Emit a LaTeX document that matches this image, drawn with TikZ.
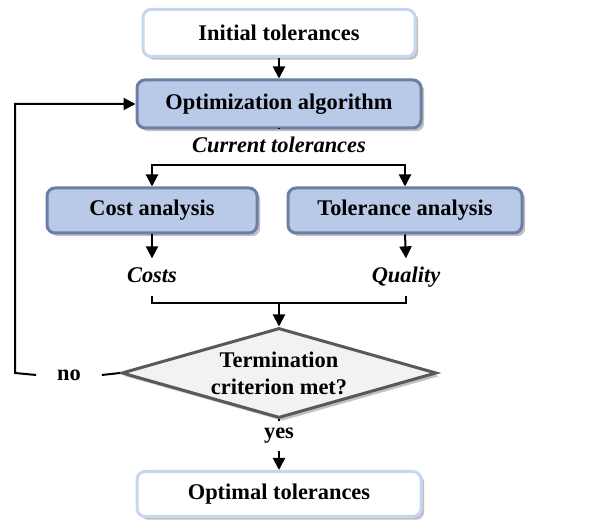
\documentclass[tikz,border=0pt]{standalone}
\usepackage{fontspec}
\setmainfont{Liberation Serif}
\usetikzlibrary{shapes.geometric, arrows.meta, positioning, calc, shadows}
\definecolor{stepblue}{RGB}{185,201,232}
\definecolor{stepedge}{RGB}{108,126,166}
\definecolor{endedge}{RGB}{198,214,240}
\definecolor{checkgray}{RGB}{242,242,242}
\definecolor{checkedge}{RGB}{89,89,89}
\tikzset{
    boxshadow/.style={drop shadow={shadow xshift=1.6pt, shadow yshift=-1.6pt, opacity=0.35, fill=black!70}},
    endpoint/.style={rectangle, rounded corners=4pt, draw=endedge, fill=white, line width=1.5pt, boxshadow, inner sep=0pt},
    process/.style={rectangle, rounded corners=4pt, draw=stepedge, fill=stepblue, line width=1.5pt, boxshadow, inner sep=0pt},
    check/.style={diamond, draw=checkedge, fill=checkgray, line width=1.5pt, boxshadow, align=center, inner sep=0pt, aspect=3.5},
    flowlabel/.style={inner sep=4pt, text height=1.6ex, text depth=0.5ex},
    arrow/.style={-{Triangle[length=6pt, width=6pt]}, line width=1pt},
}
\begin{document}
\begin{tikzpicture}[x=0.5pt, y=-0.5pt, line width=1pt, every node/.append style={font=\fontsize{11.2}{13.5}\selectfont\bfseries}]
    \useasboundingbox (0,0) rectangle (590,523);
    % main column
    \node[endpoint, minimum width=136pt, minimum height=23.5pt] (init) at (279,33) {Initial tolerances};
    \node[process, minimum width=142pt, minimum height=24pt] (opt) at (279,104) {Optimization algorithm};
    \node[flowlabel] (cur) at (279,147) {\itshape Current tolerances};
    \coordinate (split) at (279,165);
    % the two analyses
    \node[process, minimum width=105pt, minimum height=22.5pt] (cost) at (152,210.5) {Cost analysis};
    \node[process, minimum width=117pt, minimum height=22.5pt] (tol) at (405,210.5) {Tolerance analysis};
    \node[flowlabel] (costs) at (152,277) {\itshape Costs};
    \node[flowlabel] (quality) at (406,277) {\itshape Quality};
    \coordinate (join) at (279,303);
    % decision
    \node[check, minimum width=157.5pt, minimum height=45pt] (term) at (279,373) {Termination\\criterion met?};
    \node[inner xsep=10pt] (no) at (69,375) {no};
    \coordinate (back) at (15,373);
    \node[inner sep=3pt] (yes) at (279,436) {yes};
    \node[endpoint, minimum width=142pt, minimum height=22.5pt] (final) at (279,494) {Optimal tolerances};
    % connectors
    \draw[arrow] (init) -- (opt);
    \draw (opt.south) -- (cur.north);
    \draw (cur.south) -- (split);
    \draw[arrow] (split) -| (cost.north);
    \draw[arrow] (split) -| (tol.north);
    \draw[arrow] (cost.south) -- (costs.north);
    \draw[arrow] (tol.south) -- (quality.north);
    \draw (costs.south) |- (join);
    \draw (quality.south) |- (join);
    \draw[arrow] (join) -- (term.north);
    \draw (term.west) -- (no.east);
    \draw[arrow] (no.west) -- (back) |- (opt.west);
    \draw (term.south) -- (yes.north);
    \draw[arrow] (yes.south) -- (final.north);
\end{tikzpicture}
\end{document}
